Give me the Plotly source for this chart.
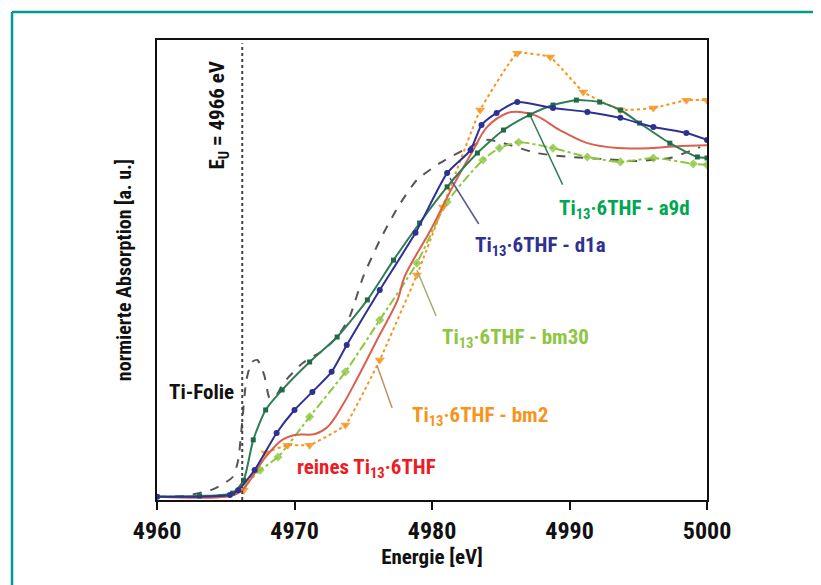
import plotly.graph_objects as go

# ---------------- data ----------------
energy_foil = [4960.0, 4962.0, 4964.1, 4965.5, 4965.9, 4966.2, 4966.5, 4966.9, 4967.3, 4967.8,
               4968.2, 4968.7, 4969.2, 4970.6, 4972.1, 4973.1, 4974.0, 4975.0, 4976.2, 4977.5,
               4978.9, 4980.6, 4982.3, 4984.0, 4985.2, 4987.6, 4990.0, 4992.4, 4994.9, 4997.3,
               4999.5]
abs_foil = [0.01, 0.012, 0.033, 0.07, 0.12, 0.24, 0.365, 0.42, 0.426, 0.38,
            0.31, 0.32, 0.356, 0.417, 0.456, 0.496, 0.557, 0.68, 0.79, 0.89,
            0.974, 1.026, 1.065, 1.096, 1.086, 1.056, 1.044, 1.038, 1.032, 1.041,
            1.074]

energy_a9d = [4960.0, 4963.1, 4965.5, 4966.3, 4967.0, 4967.9, 4969.1, 4971.1, 4973.1, 4975.3,
              4977.2, 4979.1, 4981.1, 4983.3, 4985.2, 4987.1, 4988.8, 4990.5, 4992.2, 4993.7,
              4995.1, 4997.3, 4999.3, 5000.0]
abs_a9d = [0.01, 0.012, 0.021, 0.06, 0.183, 0.274, 0.335, 0.42, 0.496, 0.609,
           0.73, 0.843, 0.953, 1.056, 1.126, 1.172, 1.202, 1.217, 1.211, 1.187,
           1.147, 1.086, 1.044, 1.041]

energy_d1a = [4960.0, 4965.3, 4965.9, 4967.1, 4968.7, 4970.0, 4971.3, 4972.7, 4973.8, 4976.2,
              4978.8, 4981.1, 4982.8, 4983.6, 4984.7, 4986.2, 4988.8, 4991.3, 4993.7, 4996.1,
              4998.5, 5000.0]
abs_d1a = [0.01, 0.015, 0.03, 0.091, 0.204, 0.274, 0.329, 0.39, 0.472, 0.639,
           0.813, 0.995, 1.065, 1.141, 1.178, 1.211, 1.193, 1.181, 1.163, 1.135,
           1.117, 1.096]

energy_pure = [4960.0, 4965.3, 4966.2, 4967.9, 4969.1, 4970.0, 4971.5, 4972.4, 4973.5, 4974.5,
               4976.0, 4977.5, 4978.0, 4979.9, 4981.5, 4983.0, 4984.0, 4985.5, 4986.4, 4987.6,
               4989.3, 4991.3, 4993.5, 4995.9, 4997.8, 5000.0]
abs_pure = [0.01, 0.012, 0.03, 0.131, 0.183, 0.198, 0.201, 0.222, 0.289, 0.365,
            0.487, 0.609, 0.679, 0.822, 0.953, 1.065, 1.135, 1.178, 1.181, 1.169,
            1.126, 1.086, 1.071, 1.071, 1.077, 1.08]

energy_bm2 = [4960.0, 4965.3, 4966.3, 4967.9, 4969.5, 4971.1, 4973.7, 4976.2, 4978.9, 4980.8,
              4983.5, 4986.2, 4988.6, 4991.0, 4993.7, 4996.1, 4998.5, 5000.0]
abs_bm2 = [0.01, 0.012, 0.03, 0.143, 0.167, 0.167, 0.228, 0.426, 0.685, 0.892,
           1.187, 1.36, 1.348, 1.242, 1.187, 1.193, 1.217, 1.217]

energy_bm30 = [4960.0, 4965.3, 4966.0, 4967.5, 4968.8, 4971.1, 4973.7, 4976.2, 4978.9, 4981.1,
               4983.7, 4984.9, 4986.3, 4988.8, 4991.3, 4993.7, 4996.1, 4999.0, 5000.0]
abs_bm30 = [0.01, 0.012, 0.03, 0.091, 0.131, 0.253, 0.39, 0.548, 0.721, 0.907,
            1.035, 1.071, 1.089, 1.071, 1.044, 1.029, 1.041, 1.023, 1.02]

x_ticks = [4960, 4970, 4980, 4990, 5000]
edge_energy = 4966.2

# ---------------- styles ----------------
FONT = "Liberation Sans Narrow, Roboto Condensed, DejaVu Sans Condensed, Arial Narrow, sans-serif"
C_FOIL = "#555555"
C_A9D_LINE = "#2f7d55"
C_A9D_TXT = "#00a651"
C_D1A = "#2e3192"
C_PURE_LINE = "#d9604f"
C_PURE_TXT = "#ed1c24"
C_BM2 = "#f7941d"
C_BM30 = "#8dc63f"
TEAL = "#009b8c"

fig = go.Figure()

# Ti foil
fig.add_trace(go.Scatter(x=energy_foil, y=abs_foil, mode="lines",
                         line=dict(color=C_FOIL, width=2, dash="dash", shape="spline", smoothing=0.6)))
# bm30
fig.add_trace(go.Scatter(x=energy_bm30, y=abs_bm30, mode="lines",
                         line=dict(color=C_BM30, width=2, dash="dashdot", shape="spline", smoothing=0.6)))
fig.add_trace(go.Scatter(x=energy_bm30[3:], y=abs_bm30[3:], mode="markers",
                         marker=dict(color=C_BM30, size=7, symbol="diamond", opacity=0.8)))
# bm2
fig.add_trace(go.Scatter(x=energy_bm2, y=abs_bm2, mode="lines",
                         line=dict(color=C_BM2, width=2, dash="dot", shape="spline", smoothing=0.3)))
fig.add_trace(go.Scatter(x=energy_bm2[2:], y=abs_bm2[2:], mode="markers",
                         marker=dict(color=C_BM2, size=9, symbol="triangle-down", opacity=0.85)))
# pure
fig.add_trace(go.Scatter(x=energy_pure, y=abs_pure, mode="lines",
                         line=dict(color=C_PURE_LINE, width=2, shape="spline")))
# a9d
fig.add_trace(go.Scatter(x=energy_a9d, y=abs_a9d, mode="lines+markers",
                         line=dict(color=C_A9D_LINE, width=2, shape="spline", smoothing=0.6),
                         marker=dict(color="#1f6b45", size=5, symbol="square")))
# d1a
fig.add_trace(go.Scatter(x=energy_d1a, y=abs_d1a, mode="lines+markers",
                         line=dict(color=C_D1A, width=2, shape="spline", smoothing=0.6),
                         marker=dict(color=C_D1A, size=6)))

# edge energy line
fig.add_shape(type="line", x0=edge_energy, x1=edge_energy, y0=0, y1=1.39,
              xref="x", yref="y", line=dict(color="#444444", width=2, dash="dot"))

# pointer lines
pointers = [
    (4987.2, 1.165, 4989.5, 0.96, C_A9D_LINE),
    (4981.3, 0.98, 4983.4, 0.84, "#555a90"),
    (4978.9, 0.70, 4980.3, 0.56, "#a0b070"),
    (4976.0, 0.41, 4977.1, 0.28, "#c09060"),
]
for x0, y0, x1, y1, c in pointers:
    fig.add_shape(type="line", x0=x0, y0=y0, x1=x1, y1=y1, xref="x", yref="y",
                  line=dict(color=c, width=1.5))

# teal frame
fig.add_shape(type="line", xref="paper", yref="paper", x0=-0.2636, x1=1.3, y0=1.0609, y1=1.0609,
              line=dict(color=TEAL, width=2.5))
fig.add_shape(type="line", xref="paper", yref="paper", x0=-0.2636, x1=-0.2636, y0=1.0609, y1=-0.3,
              line=dict(color=TEAL, width=2.5))

def label(text, x, y, color, xanchor="left", angle=0):
    fig.add_annotation(text=text, x=x, y=y, xref="x", yref="y", showarrow=False,
                       xanchor=xanchor, yanchor="middle", textangle=angle,
                       font=dict(family=FONT, size=21, color=color, weight="bold"))

sub = "Ti<sub>13</sub>·6THF"
label(sub + " - a9d", 4989.1, 0.885, C_A9D_TXT)
label(sub + " - d1a", 4983.0, 0.773, C_D1A)
label(sub + " - bm30", 4980.6, 0.493, C_BM30)
label(sub + " - bm2", 4978.4, 0.255, C_BM2)
label("reines " + sub, 4970.0, 0.095, C_PURE_TXT)
label("Ti-Folie", 4960.7, 0.33, "#111111")
fig.add_annotation(text="E<sub>U</sub> = 4966 eV", x=4964.5, y=1.17, xref="x", yref="y",
                   showarrow=False, textangle=-90, xanchor="center", yanchor="middle",
                   font=dict(family=FONT, size=21, color="#111111", weight="bold"))

fig.update_layout(
    width=813, height=577,
    margin=dict(l=149, r=114, t=32, b=85),
    paper_bgcolor="white", plot_bgcolor="white",
    showlegend=False,
    font=dict(family=FONT, color="#111111"),
    xaxis=dict(range=[4960, 5000], tickvals=x_ticks, ticktext=[str(v) for v in x_ticks],
               showgrid=False, zeroline=False, showline=True, linecolor="#111111", linewidth=2,
               mirror=True, ticks="outside", ticklen=8, tickwidth=2, tickcolor="#111111",
               tickfont=dict(family=FONT, size=24, color="#111111", weight="bold"),
               title=dict(text="Energie [eV]", standoff=4,
                          font=dict(family=FONT, size=21, color="#111111", weight="bold"))),
    yaxis=dict(range=[0, 1.4], showticklabels=False, ticks="", showgrid=False, zeroline=False,
               showline=True, linecolor="#111111", linewidth=2, mirror=True,
               title=dict(text="normierte Absorption [a. u.]", standoff=18,
                          font=dict(family=FONT, size=20, color="#111111", weight="bold"))),
)

fig.write_html("out.html")
